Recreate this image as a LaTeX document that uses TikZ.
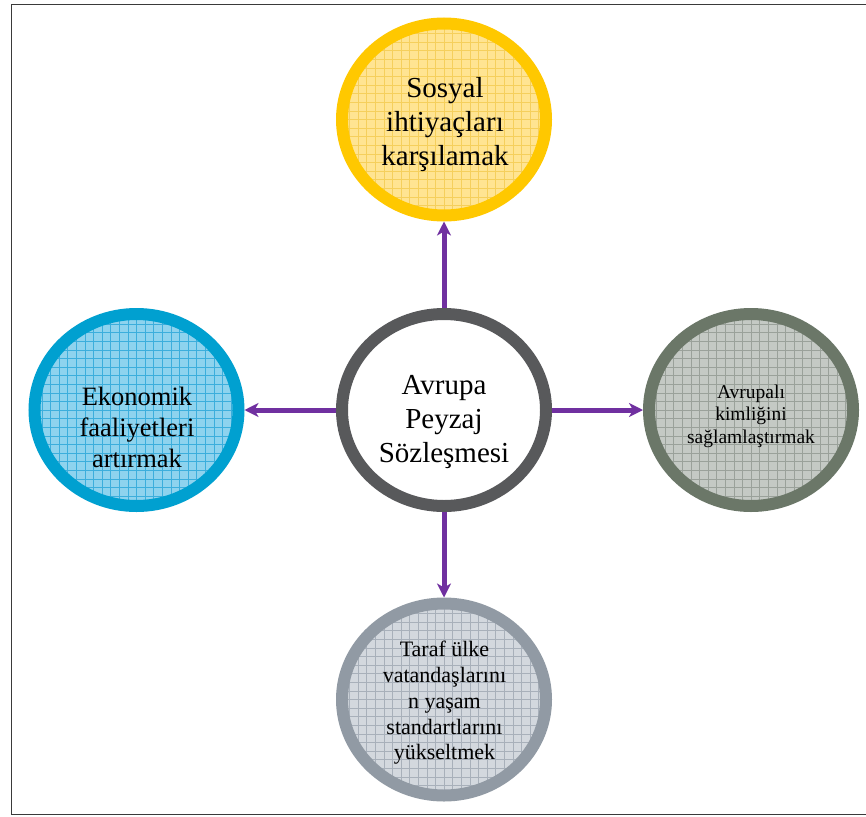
\documentclass[tikz,border=0pt]{standalone}
\usepackage{fontspec}
\setmainfont{Liberation Serif}
\usetikzlibrary{shapes.geometric,arrows.meta}
\definecolor{framec}{HTML}{3A3A3A}
\definecolor{purp}{HTML}{7030A0}
\definecolor{ringY}{HTML}{FFC800}
\definecolor{fillY}{HTML}{FFE492}
\definecolor{gridY}{HTML}{F5CF5C}
\definecolor{ringC}{HTML}{58595B}
\definecolor{ringB}{HTML}{00A0D0}
\definecolor{fillB}{HTML}{8ED3EE}
\definecolor{gridB}{HTML}{3CAEDC}
\definecolor{ringG}{HTML}{6B7768}
\definecolor{fillG}{HTML}{C4C9C4}
\definecolor{gridG}{HTML}{9AA19A}
\definecolor{ringS}{HTML}{919AA4}
\definecolor{fillS}{HTML}{D3D8DE}
\definecolor{gridS}{HTML}{A8B0BA}
\tikzset{
  blob/.style={ellipse, minimum width=204pt, minimum height=192pt, inner sep=0pt, line width=12pt},
  gridded/.style={path picture={\draw[#1, line width=0.6pt] ([shift={(-10pt,-10pt)}]path picture bounding box.south west) grid[step=8.6pt] ([shift={(10pt,10pt)}]path picture bounding box.north east);}},
  conn/.style={draw=purp, line width=5pt, -{Stealth[length=14pt,width=14pt,inset=4pt]}},
  txt/.style={align=center, inner sep=0pt, text=black}
}
\begin{document}
\begin{tikzpicture}[x=1pt,y=-1pt]
\useasboundingbox (0,0) rectangle (866,816);
\fill[white] (0,0) rectangle (866,816);
\draw[framec, line width=1.8pt] (866,4.5) -- (11.5,4.5) -- (11.5,814.5) -- (866,814.5);
% circles
\node[blob, draw=ringY, fill=fillY, gridded=gridY] (t) at (444,119.5) {};
\node[blob, draw=ringC, fill=white] (c) at (444,410) {};
\node[blob, draw=ringB, fill=fillB, gridded=gridB] (l) at (136.5,410) {};
\node[blob, draw=ringG, fill=fillG, gridded=gridG] (r) at (751,410) {};
\node[blob, draw=ringS, fill=fillS, gridded=gridS] (b) at (444,699.5) {};
% texts
\node[txt, font=\fontsize{29}{34}\selectfont] (tt) at (445,125) {Sosyal\\ihtiyaçları\\karşılamak};
\node[txt, font=\fontsize{29}{34}\selectfont] (ct) at (444,422) {Avrupa\\Peyzaj\\Sözleşmesi};
\node[txt, font=\fontsize{26.5}{31}\selectfont] (lt) at (137,427) {Ekonomik\\faaliyetleri\\artırmak};
\node[txt, font=\fontsize{19.5}{22.5}\selectfont] (rt) at (751,416) {Avrupalı\\kimliğini\\sağlamlaştırmak};
\node[txt, font=\fontsize{22}{25.7}\selectfont] (bt) at (444.5,703) {Taraf ülke\\vatandaşlarını\\n yaşam\\standartlarını\\yükseltmek};
% connectors
\draw[conn] (c) -- (t);
\draw[conn] (c) -- (l);
\draw[conn] (c) -- (r);
\draw[conn] (c) -- (b);
\end{tikzpicture}
\end{document}
